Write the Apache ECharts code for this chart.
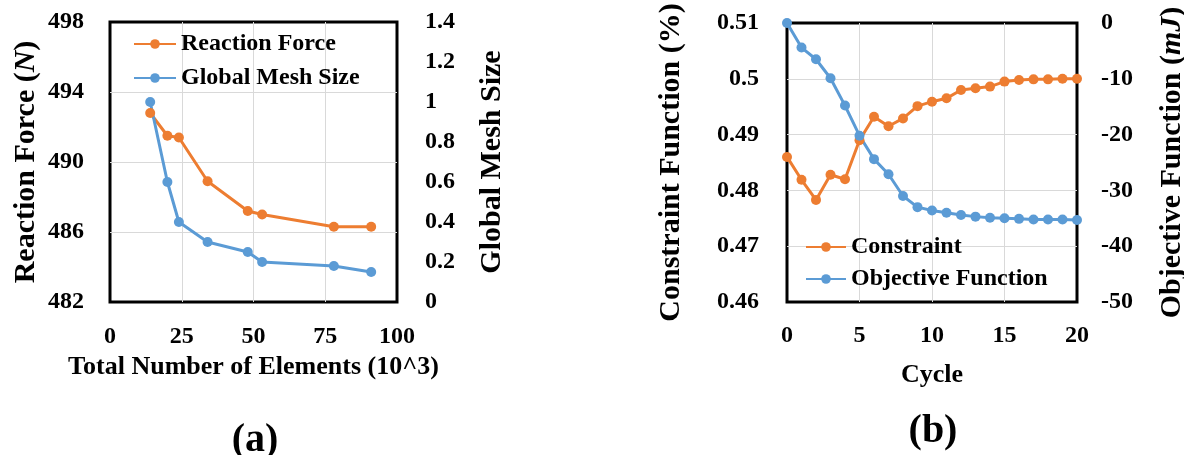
<!DOCTYPE html>
<html>
<head>
<meta charset="utf-8">
<script src="https://cdn.jsdelivr.net/npm/echarts@6/dist/echarts.min.js"></script>
<style>
  html, body { margin: 0; padding: 0; background: #fff; }
  #chart { width: 1184px; height: 455px; }
</style>
</head>
<body>
<div id="chart"></div>
<script>
// (a) mesh study
var elements = [14, 20, 24, 34, 48, 53, 78, 91];
var reactionForce = [492.8, 491.5, 491.4, 488.9, 487.2, 487.0, 486.3, 486.3];
var meshSize = [1.0, 0.6, 0.4, 0.3, 0.25, 0.2, 0.18, 0.15];

// (b) optimisation history
var cycles = [0, 1, 2, 3, 4, 5, 6, 7, 8, 9, 10, 11, 12, 13, 14, 15, 16, 17, 18, 19, 20];
var constraint = [0.4860, 0.4819, 0.4783, 0.4828, 0.4820, 0.4890, 0.4932, 0.4915, 0.4929, 0.4951,
                  0.4959, 0.4965, 0.4980, 0.4983, 0.4986, 0.4995, 0.4998, 0.4999, 0.4999, 0.5000, 0.5000];
var objective = [0, -4.4, -6.5, -9.9, -14.8, -20.2, -24.4, -27.1, -31.0, -33.0,
                 -33.6, -34.0, -34.4, -34.7, -34.9, -35.0, -35.1, -35.2, -35.2, -35.2, -35.3];

var orange = "#ED7D31";
var blue = "#5B9BD5";
var font = "'Liberation Serif', 'Times New Roman', serif";

function pairs(xs, ys) {
	var out = [];
	for (var i = 0; i < xs.length; i++) out.push([xs[i], ys[i]]);
	return out;
}

var tickLabel = { color: "#000", fontFamily: font, fontWeight: "bold", fontSize: 24 };
var nameStyle = {
	color: "#000", fontFamily: font, fontWeight: "bold", fontSize: 30,
	rich: { it: { color: "#000", fontFamily: font, fontWeight: "bold", fontStyle: "italic", fontSize: 30 } }
};
// no grid lines on the frame itself, so the black border stays visible
var gridLine = { show: true, showMinLine: false, showMaxLine: false, lineStyle: { color: "#d9d9d9", width: 1 } };

function lineSeries(name, data, color, xi, yi) {
	return {
		name: name,
		type: "line",
		xAxisIndex: xi,
		yAxisIndex: yi,
		data: data,
		symbol: "circle",
		symbolSize: 10,
		lineStyle: { color: color, width: 3 },
		itemStyle: { color: color },
	};
}

var chart = echarts.init(document.getElementById("chart"));
chart.setOption({
	animation: false,
	backgroundColor: "#fff",
	grid: [
		{ left: 110, top: 22, width: 287, height: 280, show: true, borderColor: "#000", borderWidth: 3, outerBoundsMode: "none" },
		{ left: 787, top: 23, width: 290, height: 279, show: true, borderColor: "#000", borderWidth: 3, outerBoundsMode: "none" },
	],
	legend: [
		{
			data: ["Reaction Force", "Global Mesh Size"],
			orient: "vertical", left: 128, top: 27, itemGap: 10, itemWidth: 42, itemHeight: 12,
			textStyle: { color: "#000", fontFamily: font, fontWeight: "bold", fontSize: 24 },
		},
		{
			data: ["Constraint", "Objective Function"],
			orient: "vertical", left: 800, top: 230, itemGap: 8, itemWidth: 40, itemHeight: 12,
			textStyle: { color: "#000", fontFamily: font, fontWeight: "bold", fontSize: 24 },
		},
	],
	xAxis: [
		{
			type: "value", gridIndex: 0, min: 0, max: 100, interval: 25,
			name: "Total Number of Elements (10^3)", nameLocation: "middle", nameGap: 52,
			nameTextStyle: { color: "#000", fontFamily: font, fontWeight: "bold", fontSize: 26 },
			axisLine: { show: false }, axisTick: { show: false },
			axisLabel: Object.assign({ margin: 23 }, tickLabel),
			splitLine: gridLine,
		},
		{
			type: "value", gridIndex: 1, min: 0, max: 20, interval: 5,
			name: "Cycle", nameLocation: "middle", nameGap: 60,
			nameTextStyle: { color: "#000", fontFamily: font, fontWeight: "bold", fontSize: 26 },
			axisLine: { show: false }, axisTick: { show: false },
			axisLabel: Object.assign({ margin: 22 }, tickLabel),
			splitLine: gridLine,
		},
	],
	yAxis: [
		{
			type: "value", gridIndex: 0, min: 482, max: 498, interval: 4,
			name: "Reaction Force ({it|N})", nameLocation: "middle", nameGap: 69,
			nameTextStyle: nameStyle,
			axisLine: { show: false }, axisTick: { show: false },
			axisLabel: Object.assign({ margin: 26 }, tickLabel),
			splitLine: gridLine,
		},
		{
			type: "value", gridIndex: 0, position: "right", min: 0, max: 1.4, interval: 0.2,
			name: "Global Mesh Size", nameLocation: "middle", nameGap: 80,
			nameTextStyle: nameStyle,
			axisLine: { show: false }, axisTick: { show: false },
			axisLabel: Object.assign({ margin: 28 }, tickLabel),
			splitLine: { show: false },
		},
		{
			type: "value", gridIndex: 1, min: 0.46, max: 0.51, interval: 0.01,
			name: "Constraint Function (%)", nameLocation: "middle", nameGap: 101,
			nameTextStyle: nameStyle,
			axisLine: { show: false }, axisTick: { show: false },
			axisLabel: Object.assign({ margin: 28 }, tickLabel),
			splitLine: gridLine,
		},
		{
			type: "value", gridIndex: 1, position: "right", min: -50, max: 0, interval: 10,
			name: "Objective Function ({it|mJ})", nameLocation: "middle", nameGap: 80,
			nameTextStyle: nameStyle,
			axisLine: { show: false }, axisTick: { show: false },
			axisLabel: Object.assign({ margin: 24 }, tickLabel),
			splitLine: { show: false },
		},
	],
	graphic: [
		{ type: "text", x: 255, y: 441, style: { text: "(a)", fill: "#000", font: "bold 40px " + font, align: "center", verticalAlign: "middle" } },
		{ type: "text", x: 933, y: 432, style: { text: "(b)", fill: "#000", font: "bold 40px " + font, align: "center", verticalAlign: "middle" } },
	],
	series: [
		lineSeries("Reaction Force", pairs(elements, reactionForce), orange, 0, 0),
		lineSeries("Global Mesh Size", pairs(elements, meshSize), blue, 0, 1),
		lineSeries("Constraint", pairs(cycles, constraint), orange, 1, 2),
		lineSeries("Objective Function", pairs(cycles, objective), blue, 1, 3),
	],
});
</script>
</body>
</html>
